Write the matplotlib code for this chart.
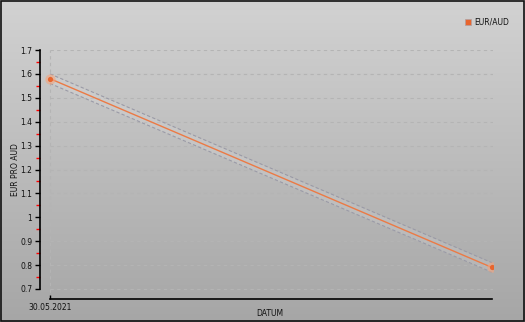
import matplotlib
matplotlib.use("Agg")
import matplotlib.pyplot as plt
import numpy as np
from matplotlib.patches import Rectangle

# Data
dates = ["30.05.2021", ""]
values = [1.58, 0.79]
band_upper = [1.60, 0.81]
band_lower = [1.56, 0.77]
y_ticks = [0.7, 0.8, 0.9, 1.0, 1.1, 1.2, 1.3, 1.4, 1.5, 1.6, 1.7]
y_tick_labels = ["0.7", "0.8", "0.9", "1", "1.1", "1.2", "1.3", "1.4", "1.5", "1.6", "1.7"]
series_name = "EUR/AUD"
x_title = "DATUM"
y_title = "EUR PRO AUD"

W, H = 525, 322
fig = plt.figure(figsize=(W/100, H/100), dpi=100)

# background gradient
bg = fig.add_axes([0, 0, 1, 1], zorder=0)
grad = np.linspace(0, 1, 256).reshape(-1, 1)
top = np.array([210, 210, 210]) / 255
bot = np.array([166, 166, 166]) / 255
img = top + (bot - top) * grad[:, :, None]
bg.imshow(img, aspect="auto", extent=[0, 1, 0, 1])
bg.set_axis_off()
bg.add_patch(Rectangle((0.001, 0.002), 0.997, 0.995, transform=bg.transAxes,
                       fill=False, edgecolor="#111111", lw=1.2))

# main axes: pixel placement
L, R, T, B = 40, 493, 50, 299
ax = fig.add_axes([L/W, 1 - B/H, (R-L)/W, (B-T)/H], zorder=1)
ax.patch.set_alpha(0)

x = np.arange(len(values))
x_span = x[-1] - x[0]
dx = x_span * 10 / 442
ax.set_xlim(x[0] - dx, x[-1] + x_span * 1 / 442)
px_per_unit = 239 / 1.0
ax.set_ylim(0.7 - 10 / px_per_unit, 1.7)

# grid
for yv in y_ticks:
    ax.plot([x[0], x[-1] + x_span * 1 / 442], [yv, yv], color="#b4b4b4", lw=0.8,
            ls=(0, (3, 3)), zorder=1)
ax.plot([x[0], x[0]], [0.7 - 10 / px_per_unit, 1.7], color="#b4b4b4", lw=0.8,
        ls=(0, (3, 3)), zorder=1)

# band
ax.fill_between(x, band_lower, band_upper, color="white", alpha=0.12, lw=0, zorder=2)
ax.plot(x, band_upper, color="#9a9aa6", lw=0.8, ls=(0, (3, 2)), zorder=2)
ax.plot(x, band_lower, color="#9a9aa6", lw=0.8, ls=(0, (3, 2)), zorder=2)

# line
ax.plot(x, values, color="#ec7a45", lw=1.0, zorder=3)
ax.scatter(x, values, s=55, color="#f4a57e", alpha=0.6, lw=0, zorder=4)
ax.scatter(x, values, s=14, color="#e8652e", lw=0, zorder=5)

# spines
for s in ["top", "right"]:
    ax.spines[s].set_visible(False)
ax.spines["left"].set_bounds(0.7, 1.7)
ax.spines["bottom"].set_bounds(x[0], x[-1])
ax.spines["left"].set_linewidth(1.2)
ax.spines["bottom"].set_linewidth(1.2)

ax.set_yticks(y_ticks)
ax.set_yticklabels(y_tick_labels, fontsize=5.5, color="#111111")
ax.set_yticks([v + 0.05 for v in y_ticks[:-1]], minor=True)
ax.tick_params(axis="y", which="major", length=3.5, width=1, color="black", pad=2)
ax.tick_params(axis="y", which="minor", length=3, width=1, color="red")

ax.set_xticks([x[0]])
ax.set_xticklabels([dates[0]], fontsize=5.5, color="#111111")
ax.tick_params(axis="x", direction="in", length=3, width=1, pad=3)

fig.text(270/W, 1 - 313/H, x_title, fontsize=5.5, color="#111111", ha="center", va="center")
fig.text(15/W, 1 - 170/H, y_title, fontsize=5.5, color="#111111", ha="center", va="center",
         rotation=90)

# legend
fig.patches.append(Rectangle((465/W, 1 - 25/H), 6/W, 6/H, transform=fig.transFigure,
                             facecolor="#e8652e", edgecolor="#b0a0a0", lw=0.5))
fig.text(474/W, 1 - 22/H, series_name, fontsize=5.5, color="#111111", va="center", ha="left")

fig.savefig("out.png", dpi=100)
